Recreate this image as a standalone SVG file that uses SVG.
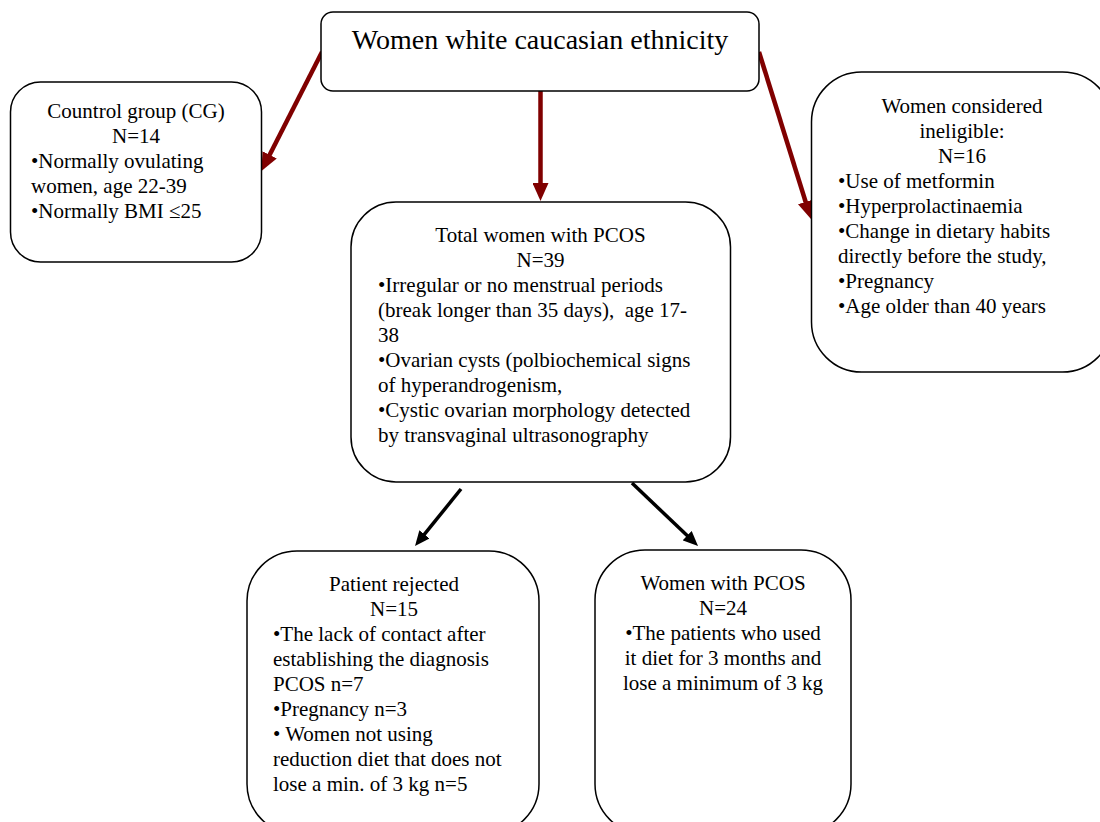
<svg xmlns="http://www.w3.org/2000/svg" width="1100" height="822" viewBox="0 0 1100 822">
<style>
.box{fill:#fff;stroke:#000;stroke-width:1.5}
.t{font-family:"Liberation Serif","Times New Roman",serif;font-size:21px;fill:#000}
.c{text-anchor:middle}
.title{font-size:28px}
.red{stroke:#800000;stroke-width:4.5;fill:none}
.blk{stroke:#000;stroke-width:3.5;fill:none}
</style>
<defs>
<marker id="ahr" markerUnits="userSpaceOnUse" markerWidth="18" markerHeight="16" viewBox="0 0 18 16" refX="8" refY="8" orient="auto">
<path d="M0,0 L18,8 L0,16 z" fill="#800000"/>
</marker>
<marker id="ahb" markerUnits="userSpaceOnUse" markerWidth="15" markerHeight="13" viewBox="0 0 15 13" refX="5" refY="6.5" orient="auto">
<path d="M0,0 L15,6.5 L0,13 z" fill="#000"/>
</marker>
</defs>
<rect width="1100" height="822" fill="#fff"/>
<g id="connectors">
<line class="red" x1="322" y1="52" x2="266" y2="162.1" marker-end="url(#ahr)"/>
<line class="red" x1="540.5" y1="91" x2="540.5" y2="191" marker-end="url(#ahr)"/>
<line class="red" x1="759" y1="52" x2="808" y2="209.5" marker-end="url(#ahr)"/>
<line class="blk" x1="461" y1="489" x2="421.3" y2="538.2" marker-end="url(#ahb)"/>
<line class="blk" x1="632" y1="483" x2="690.8" y2="539.1" marker-end="url(#ahb)"/>
</g>
<g id="top">
<rect class="box" x="321" y="12" width="438" height="79" rx="12"/>
<text class="t c title" x="540" y="49">Women white caucasian ethnicity</text>
</g>
<g id="control">
<rect class="box" x="10.5" y="82" width="251" height="180" rx="30"/>
<text class="t c" x="136" y="118">Countrol group (CG)</text>
<text class="t c" x="136" y="143">N=14</text>
<text class="t" x="31" y="168">•Normally ovulating</text>
<text class="t" x="31" y="193">women, age 22-39</text>
<text class="t" x="31" y="218">•Normally BMI ≤25</text>
</g>
<g id="ineligible">
<rect class="box" x="811.5" y="72" width="301" height="300" rx="50"/>
<text class="t c" x="962" y="113">Women considered</text>
<text class="t c" x="962" y="138">ineligible:</text>
<text class="t c" x="962" y="163">N=16</text>
<text class="t" x="838" y="188">•Use of metformin</text>
<text class="t" x="838" y="213">•Hyperprolactinaemia</text>
<text class="t" x="838" y="238">•Change in dietary habits</text>
<text class="t" x="838" y="263">directly before the study,</text>
<text class="t" x="838" y="288">•Pregnancy</text>
<text class="t" x="838" y="313">•Age older than 40 years</text>
</g>
<g id="pcos">
<rect class="box" x="351" y="202" width="379.5" height="280" rx="45"/>
<text class="t c" x="540.5" y="242">Total women with PCOS</text>
<text class="t c" x="540.5" y="267">N=39</text>
<text class="t" x="378" y="292">•Irregular or no menstrual periods</text>
<text class="t" x="378" y="317">(break longer than 35 days),&#160; age 17-</text>
<text class="t" x="378" y="342">38</text>
<text class="t" x="378" y="367">•Ovarian cysts (polbiochemical signs</text>
<text class="t" x="378" y="392">of hyperandrogenism,</text>
<text class="t" x="378" y="417">•Cystic ovarian morphology detected</text>
<text class="t" x="378" y="442">by transvaginal ultrasonography</text>
</g>
<g id="rejected">
<rect class="box" x="247" y="551" width="292" height="283" rx="50"/>
<text class="t c" x="394" y="591">Patient rejected</text>
<text class="t c" x="394" y="616">N=15</text>
<text class="t" x="273" y="641">•The lack of contact after</text>
<text class="t" x="273" y="666">establishing the diagnosis</text>
<text class="t" x="273" y="691">PCOS n=7</text>
<text class="t" x="273" y="716">•Pregnancy n=3</text>
<text class="t" x="273" y="741">• Women not using</text>
<text class="t" x="273" y="766">reduction diet that does not</text>
<text class="t" x="273" y="791">lose a min. of 3 kg n=5</text>
</g>
<g id="included">
<rect class="box" x="595" y="550" width="256" height="284" rx="50"/>
<text class="t c" x="723" y="590">Women with PCOS</text>
<text class="t c" x="723" y="615">N=24</text>
<text class="t c" x="723" y="640">•The patients who used</text>
<text class="t c" x="723" y="665">it diet for 3 months and</text>
<text class="t c" x="723" y="690">lose a minimum of 3 kg</text>
</g>
</svg>
